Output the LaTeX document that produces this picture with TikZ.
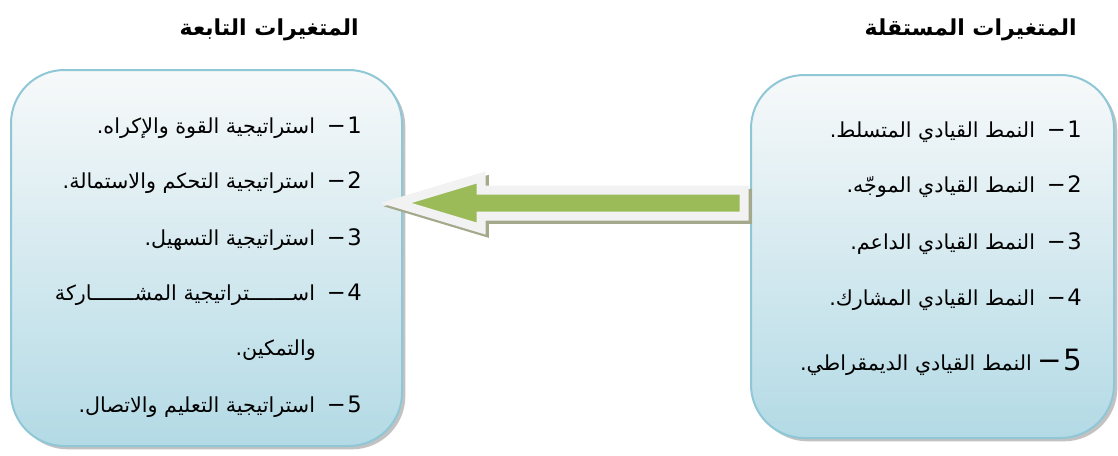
\documentclass[tikz,border=0pt]{standalone}
\usepackage{fontspec}
\usetikzlibrary{shadows,fit,calc}
\newfontfamily\arabicfont[Script=Arabic]{DejaVu Sans}
\TeXXeTstate=1
\definecolor{boxline}{HTML}{8FC7D6}
\definecolor{boxtop}{HTML}{F7F9FA}
\definecolor{boxbot}{HTML}{B3DAE5}
\definecolor{arrowgreen}{HTML}{9BBB59}
\definecolor{arrowrim}{HTML}{F2F2F2}
\definecolor{arrowshade}{HTML}{A5A98C}
\newcommand\numfont{\fontsize{17}{18}\selectfont}
\tikzset{
    varbox/.style={rectangle,rounded corners=40pt,draw=boxline,line width=1.5pt,
        top color=boxtop,bottom color=boxbot,inner sep=0pt,
        drop shadow={shadow xshift=2.5pt,shadow yshift=-2.5pt,fill=black!40,opacity=.6}},
    vartitle/.style={anchor=base east,inner sep=0pt,font=\arabicfont\bfseries\fontsize{16.5}{18}\selectfont},
    varitem/.style={anchor=base east,inner sep=0pt,font=\arabicfont\fontsize{15.5}{17}\selectfont},
    arrowbody/.style={fill=arrowgreen,draw=arrowrim,line width=6.75pt,line join=miter,
        drop shadow={shadow xshift=2.5pt,shadow yshift=-2.5pt,fill=arrowshade,
            draw=arrowshade,line width=6.75pt,opacity=1}}
}
\begin{document}
\begin{tikzpicture}[x=0.75pt,y=-0.75pt]
    \useasboundingbox (0,0) rectangle (1118,455);

    % titles
    \node[vartitle] (ta) at (1077,35) {\beginR المتغيرات المستقلة\endR};
    \node[vartitle] (tb) at (359,35) {\beginR المتغيرات التابعة\endR};

    % boxes
    \node[varbox,fit={(751,75) (1114,438)}] (indep) {};
    \node[varbox,fit={(11,70) (402,446)}] (dep) {};

    % arrow
    \coordinate (tip) at (396,203);
    \coordinate (tail) at (744,203);
    \draw[arrowbody] ($(tail)+(0,-13)$) -- ($(tip)+(85,-13)$) -- ($(tip)+(85,-25.5)$)
        -- (tip) -- ($(tip)+(85,25.5)$) -- ($(tip)+(85,13)$) -- ($(tail)+(0,13)$) -- cycle;

    \begin{scope}[every node/.style={varitem}]
        \node (a1) at (1082,137) {\beginR{\numfont 1\kern1pt−}\hspace{9pt}النمط القيادي المتسلط.\endR};
        \node (a2) at (1082,192) {\beginR{\numfont 2\kern1pt−}\hspace{9pt}النمط القيادي الموجّه.\endR};
        \node (a3) at (1082,249) {\beginR{\numfont 3\kern1pt−}\hspace{9pt}النمط القيادي الداعم.\endR};
        \node (a4) at (1082,305) {\beginR{\numfont 4\kern1pt−}\hspace{9pt}النمط القيادي المشارك.\endR};
        \node (a5) at (1082,370) {\beginR{\fontsize{22}{24}\selectfont 5\kern1pt−}\hspace{4pt}النمط القيادي الديمقراطي.\endR};

        \node (b1) at (362,133) {\beginR{\numfont 1\kern1pt−}\hspace{9pt}استراتيجية القوة والإكراه.\endR};
        \node (b2) at (362,188) {\beginR{\numfont 2\kern1pt−}\hspace{9pt}استراتيجية التحكم والاستمالة.\endR};
        \node (b3) at (362,245) {\beginR{\numfont 3\kern1pt−}\hspace{9pt}استراتيجية التسهيل.\endR};
        \node (b4) at (362,300) {\beginR{\numfont 4\kern1pt−}\hspace{9pt}اســـــــتراتيجية المشـــــــاركة\endR};
        \node (b4b) at (316,355) {\beginR والتمكين.\endR};
        \node (b5) at (362,412) {\beginR{\numfont 5\kern1pt−}\hspace{9pt}استراتيجية التعليم والاتصال.\endR};
    \end{scope}
\end{tikzpicture}
\end{document}
